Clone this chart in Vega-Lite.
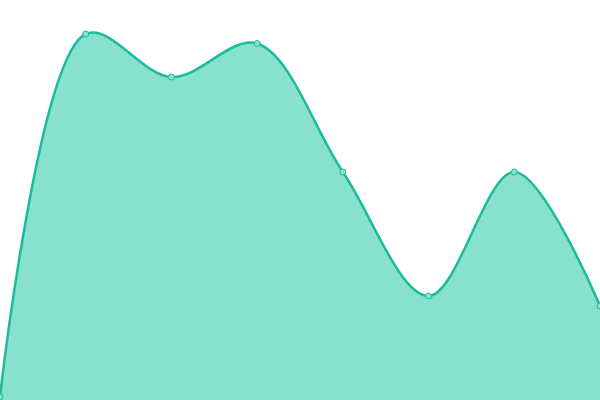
{
  "$schema": "https://vega.github.io/schema/vega-lite/v6.json",
  "width": 600,
  "height": 400,
  "padding": 0,
  "autosize": {"type": "fit", "contains": "padding"},
  "data": {
    "values": [
      {"idx": 0, "value": 3},
      {"idx": 1, "value": 366},
      {"idx": 2, "value": 323},
      {"idx": 3, "value": 356.5},
      {"idx": 4, "value": 228},
      {"idx": 5, "value": 104},
      {"idx": 6, "value": 228},
      {"idx": 7, "value": 94}
    ]
  },
  "encoding": {
    "x": {
      "field": "idx",
      "type": "quantitative",
      "scale": {"domain": [0, 7], "nice": false, "zero": false},
      "axis": null
    },
    "y": {
      "field": "value",
      "type": "quantitative",
      "scale": {"domain": [0, 400], "nice": false},
      "axis": null
    }
  },
  "layer": [
    {
      "mark": {
        "type": "area",
        "interpolate": "catmull-rom",
        "color": "#88e0cf",
        "opacity": 1,
        "clip": true
      }
    },
    {
      "mark": {
        "type": "line",
        "interpolate": "catmull-rom",
        "color": "#1abc9c",
        "strokeWidth": 2.5,
        "clip": true
      }
    },
    {
      "mark": {
        "type": "point",
        "filled": true,
        "fill": "#8ae0cf",
        "stroke": "#1abc9c",
        "strokeWidth": 1,
        "size": 36,
        "opacity": 1,
        "clip": true
      }
    }
  ],
  "config": {
    "view": {"stroke": null}
  }
}
